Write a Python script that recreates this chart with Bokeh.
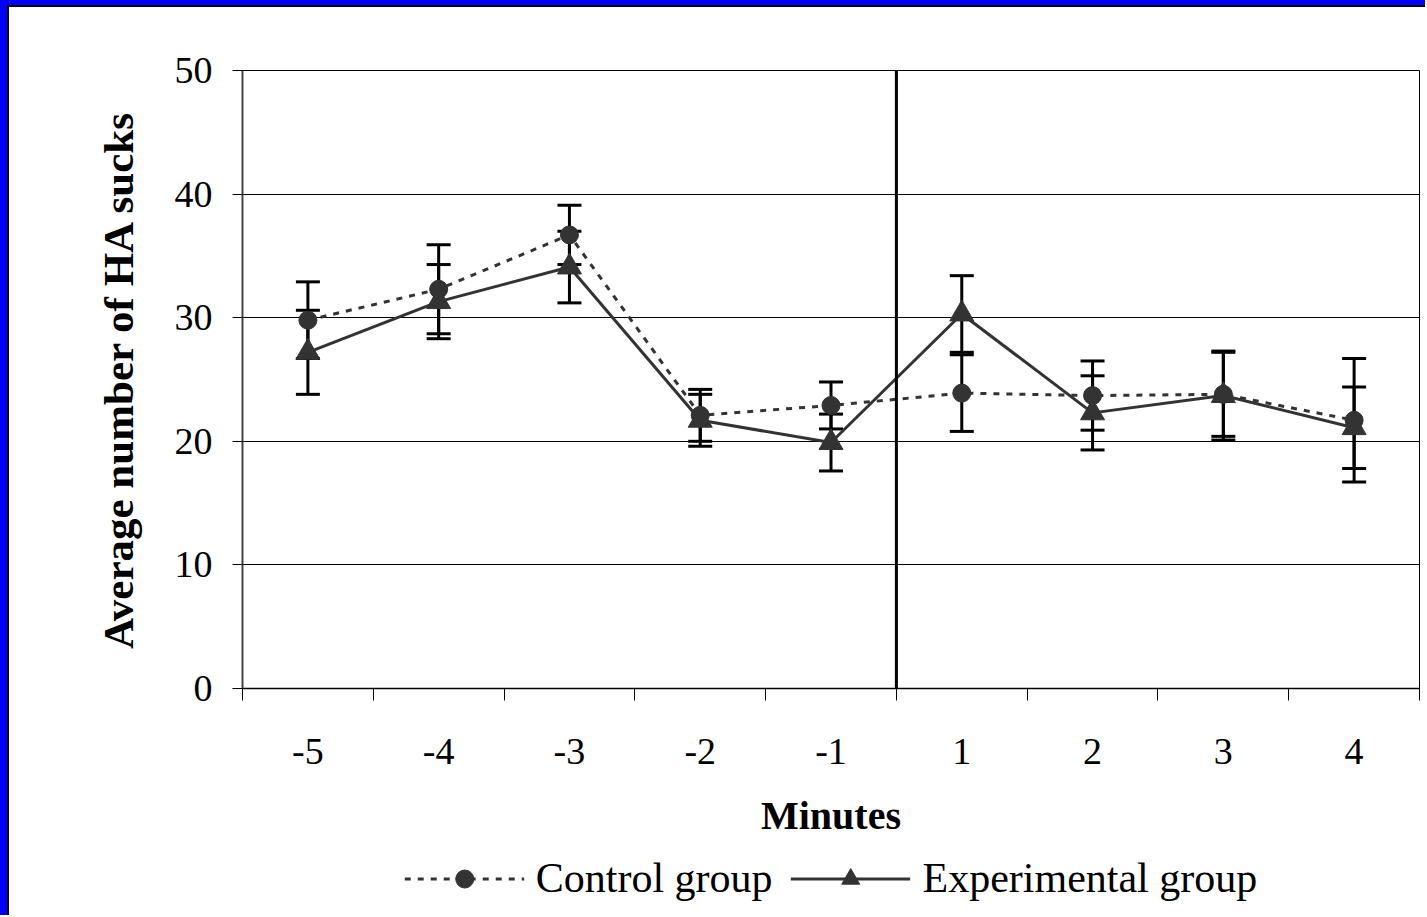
from bokeh.plotting import figure
from bokeh.models import (ColumnDataSource, Whisker, TeeHead, Span, Legend, LegendItem,
                          FixedTicker, Range1d)
from bokeh.layouts import column
from bokeh.embed import file_html
from bokeh.resources import INLINE

# ---- data ----
minutes = ["-5", "-4", "-3", "-2", "-1", "1", "2", "3", "4"]
control_mean = [29.8, 32.3, 36.7, 22.1, 22.9, 23.9, 23.7, 23.8, 21.7]
control_err = [3.1, 3.6, 2.4, 2.1, 1.9, 3.1, 2.8, 3.4, 5.0]
exp_mean = [27.2, 31.3, 34.1, 21.7, 19.9, 30.3, 22.3, 23.7, 21.1]
exp_err = [3.4, 3.0, 2.9, 2.1, 2.3, 3.1, 3.0, 3.6, 3.3]
y_ticks = [0, 10, 20, 30, 40, 50]
series_names = ["Control group", "Experimental group"]
stimulus_change_after = "-1"

FONT = "Liberation Serif"
GRAY = "#333333"

xc = [i + 0.5 for i in range(len(minutes))]
boundaries = list(range(len(minutes) + 1))

ctrl = ColumnDataSource(dict(
    x=xc, y=control_mean,
    upper=[m + e for m, e in zip(control_mean, control_err)],
    lower=[m - e for m, e in zip(control_mean, control_err)]))
expd = ColumnDataSource(dict(
    x=xc, y=exp_mean,
    upper=[m + e for m, e in zip(exp_mean, exp_err)],
    lower=[m - e for m, e in zip(exp_mean, exp_err)]))

p = figure(width=1418, height=836, output_backend="svg", toolbar_location=None,
           x_range=Range1d(0, len(minutes)), y_range=Range1d(0, 50),
           min_border_left=233, min_border_top=63, min_border_right=8,
           min_border_bottom=155,
           styles={"border-top": "2px solid black", "border-left": "2px solid black",
                   "background-color": "white"})
p.background_fill_color = "white"
p.border_fill_color = "white"
p.outline_line_color = "black"
p.outline_line_width = 1

# grid
p.xgrid.visible = False
p.ygrid.ticker = FixedTicker(ticks=y_ticks)
p.ygrid.grid_line_color = "black"
p.ygrid.grid_line_width = 1

# y axis
ya = p.yaxis[0]
ya.ticker = FixedTicker(ticks=y_ticks)
ya.major_tick_out = 10
ya.major_tick_in = 0
ya.minor_tick_out = 0
ya.minor_tick_in = 0
ya.major_tick_line_color = "black"
ya.axis_line_color = "#444444"
ya.axis_line_width = 2
ya.major_label_text_font = FONT
ya.major_label_text_font_size = "38px"
ya.major_label_text_color = "black"
ya.major_label_standoff = 20
ya.axis_label = "Average number of HA sucks"
ya.axis_label_text_font = FONT
ya.axis_label_text_font_style = "bold"
ya.axis_label_text_font_size = "43px"
ya.axis_label_text_color = "black"
ya.axis_label_standoff = 30

# x axis
xa = p.xaxis[0]
xa.ticker = FixedTicker(ticks=xc, minor_ticks=boundaries)
xa.major_label_overrides = {x: m for x, m in zip(xc, minutes)}
xa.major_tick_out = 0
xa.major_tick_in = 0
xa.major_tick_line_color = None
xa.minor_tick_out = 12
xa.minor_tick_in = 0
xa.minor_tick_line_color = "black"
xa.axis_line_color = "black"
xa.axis_line_width = 1.5
xa.major_label_text_font = FONT
xa.major_label_text_font_size = "38px"
xa.major_label_text_color = "black"
xa.major_label_standoff = 38
xa.axis_label = "Minutes"
xa.axis_label_text_font = FONT
xa.axis_label_text_font_style = "bold"
xa.axis_label_text_font_size = "40px"
xa.axis_label_text_color = "black"
xa.axis_label_standoff = 26

# vertical divider between -1 and 1
p.add_layout(Span(location=minutes.index(stimulus_change_after) + 1, dimension="height",
                  line_color="black", line_width=3))

# error bars
for src in (ctrl, expd):
    w = Whisker(source=src, base="x", upper="upper", lower="lower",
                line_color="black", line_width=3, level="underlay",
                upper_head=TeeHead(size=24, line_color="black", line_width=3),
                lower_head=TeeHead(size=24, line_color="black", line_width=3))
    p.add_layout(w)

# lines and markers
c_line = dict(line_color=GRAY, line_width=3, line_dash="6 7")
e_line = dict(line_color=GRAY, line_width=3)
c_mark = dict(marker="circle", size=18, fill_color=GRAY, line_color=GRAY)
e_mark = dict(marker="triangle", size=24, fill_color=GRAY, line_color=GRAY)
p.line("x", "y", source=ctrl, **c_line)
p.line("x", "y", source=expd, **e_line)
p.scatter("x", "y", source=ctrl, **c_mark)
p.scatter("x", "y", source=expd, **e_mark)

# ---- legend strip (separate figure, same frame width; data lies outside its view) ----
pl = figure(width=1418, height=74, output_backend="svg", toolbar_location=None,
            x_range=Range1d(0, len(minutes)), y_range=Range1d(-2, -1),
            x_axis_type=None, y_axis_type=None,
            min_border_left=233, min_border_right=8, min_border_top=0, min_border_bottom=0,
            styles={"border-left": "2px solid black", "background-color": "white"})
pl.outline_line_color = None
pl.background_fill_color = "white"
pl.border_fill_color = "white"
pl.grid.visible = False
lc = pl.line("x", "y", source=ctrl, **c_line)
lcp = pl.scatter("x", "y", source=ctrl, **c_mark)
le = pl.line("x", "y", source=expd, **e_line)
lep = pl.scatter("x", "y", source=expd, **e_mark)

legend = Legend(items=[LegendItem(label=series_names[0], renderers=[lc, lcp]),
                       LegendItem(label=series_names[1], renderers=[le, lep])],
                orientation="horizontal", location="center",
                glyph_width=120, glyph_height=45, label_standoff=12, spacing=18,
                padding=0, margin=0, border_line_color=None, background_fill_alpha=0,
                label_text_font=FONT, label_text_font_size="42px",
                label_text_color="black")
pl.add_layout(legend, "center")

layout = column(p, pl, spacing=0,
                styles={"background-color": "blue", "padding-top": "5px",
                        "padding-left": "7px"})

open("out.html", "w").write(file_html(layout, INLINE))
